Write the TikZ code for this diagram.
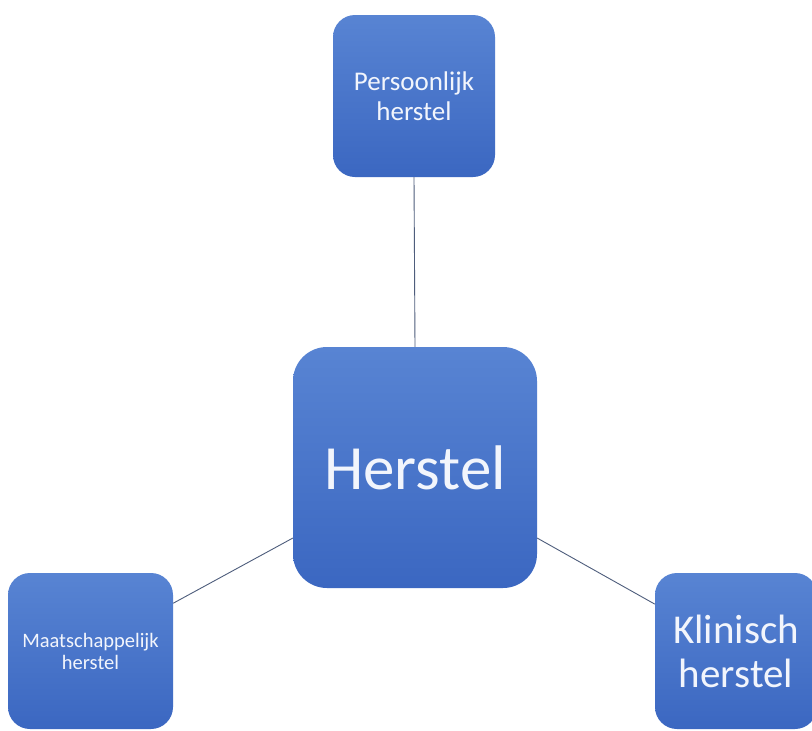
\documentclass[tikz,border=0pt]{standalone}
\usepackage{fontspec}
\setmainfont{Carlito}
\definecolor{boxtop}{HTML}{5884D3}
\definecolor{boxbot}{HTML}{3B67C1}
\definecolor{linecol}{HTML}{4E5D7C}
\definecolor{txtcol}{HTML}{F2F5FC}
\tikzset{
  rbox/.style={rectangle, top color=boxtop, bottom color=boxbot, draw=none,
    text=txtcol, align=center, inner sep=0pt},
  conn/.style={draw=linecol, line width=0.9pt}
}
\begin{document}
\begin{tikzpicture}[x=1pt,y=1pt]
\useasboundingbox[fill=white] (0,0) rectangle (812,-731);
\node[rbox, minimum width=162, minimum height=162, rounded corners=22,
  font=\fontsize{27}{30}\selectfont] (top) at (414,-96) {Persoonlijk\\herstel};
\node[rbox, minimum width=244, minimum height=241, rounded corners=34,
  font=\fontsize{63}{70}\selectfont] (mid) at (415,-467.5) {Herstel};
\node[rbox, minimum width=165, minimum height=156, rounded corners=22,
  font=\fontsize{20.5}{22}\selectfont] (bl) at (90.5,-651) {Maatschappelijk\\herstel};
\node[rbox, minimum width=162, minimum height=156, rounded corners=22,
  font=\fontsize{41}{44}\selectfont] (br) at (736,-651) {Klinisch\\herstel};
\draw[conn] (top.south) -- (mid.north);
\draw[conn] (bl.30) -- (mid.210);
\draw[conn] (mid.330) -- (br.150);
\end{tikzpicture}
\end{document}
